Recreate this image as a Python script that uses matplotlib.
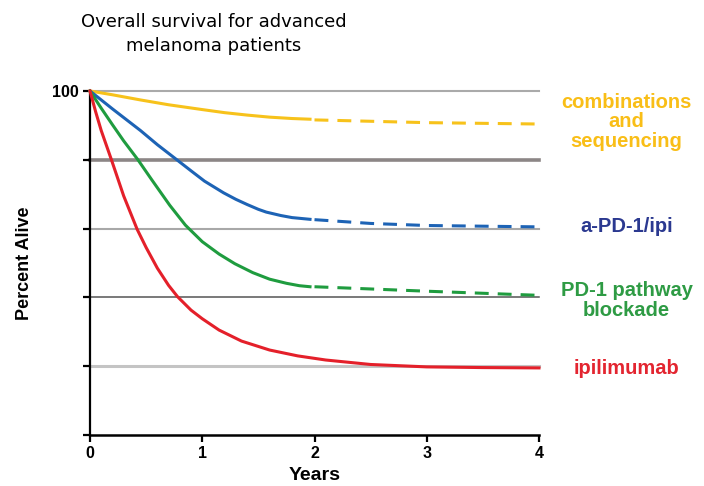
import numpy as np
import matplotlib
matplotlib.use('Agg')
import matplotlib.pyplot as plt

plt.rcParams['font.family'] = ['Liberation Sans', 'DejaVu Sans']
plt.rcParams['lines.scale_dashes'] = False

yel_x = [0, 0.2, 0.45, 0.7, 1.0, 1.2, 1.4, 1.6, 1.8, 1.96]
yel_y = [100, 98.9, 97.4, 96.0, 94.6, 93.7, 93.0, 92.4, 92.0, 91.8]
yel_dx = [2.0, 3.0, 4.0]
yel_dy = [91.6, 90.8, 90.4]

blu_x = [0, 0.2, 0.45, 0.6, 0.77, 0.9, 1.02, 1.19, 1.3, 1.4, 1.5, 1.57, 1.7, 1.8, 1.96]
blu_y = [100, 94.8, 88.5, 84.4, 80.1, 76.8, 73.8, 70.4, 68.5, 67.0, 65.6, 64.8, 63.8, 63.2, 62.7]
blu_dx = [2.0, 2.5, 3.0, 4.0]
blu_dy = [62.6, 61.5, 60.9, 60.5]

grn_x = [0, 0.1, 0.2, 0.3, 0.425, 0.55, 0.71, 0.85, 1.0, 1.15, 1.29, 1.45, 1.6, 1.75, 1.865, 1.96]
grn_y = [100, 95.0, 90.2, 85.5, 80.1, 74.2, 66.8, 61.0, 56.2, 52.6, 49.8, 47.2, 45.3, 44.1, 43.4, 43.1]
grn_dx = [2.0, 3.0, 4.0]
grn_dy = [43.1, 41.8, 40.6]

red_x = [0, 0.05, 0.1, 0.19, 0.3, 0.42, 0.5, 0.6, 0.7, 0.78, 0.9, 1.0, 1.15, 1.35, 1.6,
         1.85, 2.1, 2.5, 3.0, 3.5, 4.0]
red_y = [100, 94.0, 88.5, 80.1, 69.5, 59.8, 54.5, 48.5, 43.5, 40.2, 36.3, 33.8, 30.5, 27.3, 24.7,
         23.0, 21.8, 20.5, 19.8, 19.6, 19.5]

labels = ['combinations\nand\nsequencing', 'a-PD-1/ipi', 'PD-1 pathway\nblockade', 'ipilimumab']
label_y = [91.0, 60.5, 39.2, 19.2]

grid_y = [100, 80, 60, 40, 20]
grid_c = ['#aaaaaa', '#8c8686', '#a8a8a8', '#555555', '#c4c4c4']
grid_w = [1.5, 2.6, 1.5, 1.1, 2.2]

fig = plt.figure(figsize=(7.04, 4.86), dpi=100)
ax = fig.add_axes([90/704, 51/486, 449/704, 344/486])

for gy, gc, gw in zip(grid_y, grid_c, grid_w):
    ax.plot([0, 4], [gy, gy], color=gc, lw=gw, zorder=1, clip_on=False)

lw = 2.2
dash = (10, 6.5)
ax.plot(yel_x, yel_y, color='#f7c21b', lw=lw, zorder=3, clip_on=False)
ax.plot(yel_dx, yel_dy, color='#f7c21b', lw=lw, dashes=dash, zorder=3, clip_on=False)
ax.plot(blu_x, blu_y, color='#1d63b5', lw=lw, zorder=3, clip_on=False)
ax.plot(blu_dx, blu_dy, color='#1d63b5', lw=lw, dashes=dash, zorder=3, clip_on=False)
ax.plot(grn_x, grn_y, color='#1f9c3f', lw=lw, zorder=3, clip_on=False)
ax.plot(grn_dx, grn_dy, color='#1f9c3f', lw=lw, dashes=dash, zorder=3, clip_on=False)
ax.plot(red_x, red_y, color='#e4202a', lw=lw, zorder=3, clip_on=False)

label_c = ['#f9be17', '#2b3990', '#2e9b44', '#e32530']
for lab, ly, lc in zip(labels, label_y, label_c):
    ax.text(4.78, ly, lab, color=lc, fontsize=14.5, fontweight='bold',
            ha='center', va='center', multialignment='center',
            linespacing=1.05, clip_on=False)

ax.set_xlim(0, 4)
ax.set_ylim(0, 100)
ax.set_xticks([0, 1, 2, 3, 4])
ax.set_xticklabels(['0', '1', '2', '3', '4'], fontweight='bold', fontsize=11.5)
ax.set_yticks([0, 20, 40, 60, 80, 100])
ax.set_yticklabels(['', '', '', '', '', '100'], fontweight='bold', fontsize=11.5)
ax.tick_params(axis='both', direction='out', length=5, width=1.6, color='black', pad=3)
for s in ['top', 'right']:
    ax.spines[s].set_visible(False)
ax.spines['left'].set_linewidth(1.6)
ax.spines['bottom'].set_linewidth(1.8)

ax.set_xlabel('Years', fontsize=14, fontweight='bold', labelpad=4)
ax.set_ylabel('Percent Alive', fontsize=13, fontweight='bold', labelpad=14)

fig.text(0.304, 0.93, 'Overall survival for advanced\nmelanoma patients',
         family='DejaVu Sans', fontsize=13,
         ha='center', va='center', multialignment='center', linespacing=1.4)

fig.savefig('out.png', dpi=100)
